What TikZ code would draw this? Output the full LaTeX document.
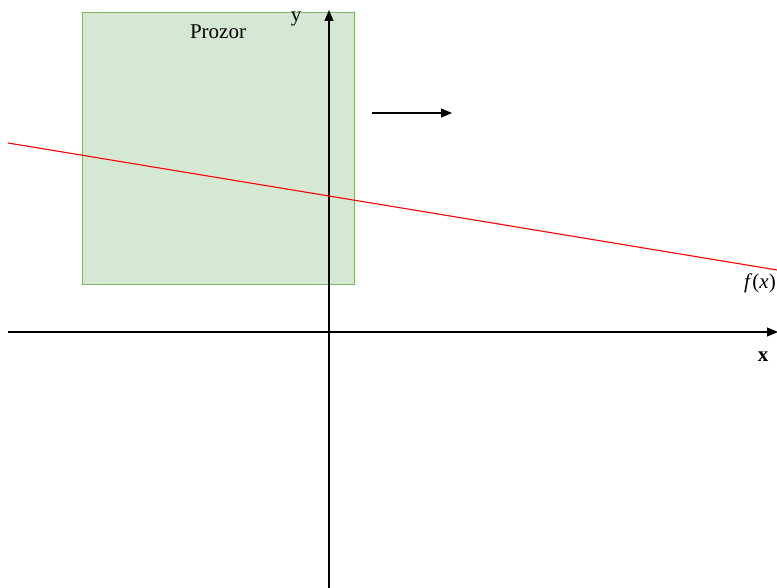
\documentclass[tikz,border=0pt]{standalone}
\usepackage{fontspec}
\setmainfont{Liberation Serif}
\usetikzlibrary{arrows.meta}
\definecolor{boxfill}{HTML}{D5E8D4}
\definecolor{boxline}{HTML}{82B366}
\tikzset{
  axis/.style={draw=black, line width=1.1pt, -{Triangle[length=11pt,width=9pt]}},
  lbl/.style={font=\fontsize{21}{24}\selectfont, inner sep=0pt}
}
\begin{document}
\begin{tikzpicture}[x=1pt,y=-1pt]
\useasboundingbox (0,0) rectangle (777,588);
\node[draw=boxline, fill=boxfill, line width=1.2pt, minimum width=272pt, minimum height=272pt, anchor=north west, inner sep=0pt] (box) at (82,12) {};
\node[lbl] (prozor) at (218,32) {Prozor};
\coordinate (ybot) at (329,588);
\coordinate (ytop) at (329,10);
\coordinate (xl) at (8,332);
\coordinate (xr) at (778,332);
\draw[axis] (ybot) -- (ytop);
\draw[axis] (xl) -- (xr);
\node[lbl] (ylab) at (296,19) {y};
\node[lbl] (xlab) at (763,357) {\textbf{x}};
\coordinate (fa) at (8,143);
\coordinate (fb) at (777,270);
\draw[red, line width=1.1pt] (fa) -- (fb);
\node[lbl] (flab) at (760,283) {\textit{f}(\textit{x})};
\coordinate (ma) at (372,113);
\coordinate (mb) at (452,113);
\draw[axis] (ma) -- (mb);
\end{tikzpicture}
\end{document}
